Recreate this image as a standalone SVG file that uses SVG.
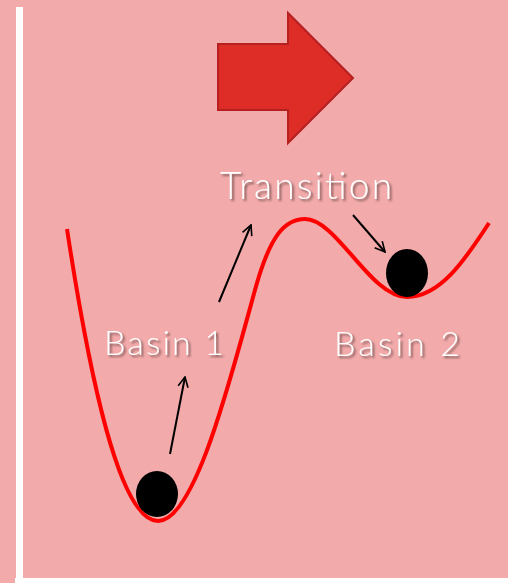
<svg xmlns="http://www.w3.org/2000/svg" width="508" height="583" viewBox="0 0 508 583">
<defs>
<style>
.lbl{font-family:"Lato","Open Sans","DejaVu Sans",sans-serif;font-weight:300;font-size:34px;fill:#ffffff;filter:url(#sh)}
.con{stroke:#000;stroke-width:2;fill:none;marker-end:url(#ah)}
</style>
<filter id="sh" x="-10%" y="-20%" width="130%" height="160%">
<feDropShadow dx="2" dy="2" stdDeviation="1.2" flood-color="#5a3a3a" flood-opacity="0.75"/>
</filter>
<marker id="ah" viewBox="0 0 12 12" refX="11" refY="6" markerWidth="12" markerHeight="12" markerUnits="userSpaceOnUse" orient="auto">
<path d="M1,1 L11,6 L1,11" fill="none" stroke="#000" stroke-width="1.6"/>
</marker>
</defs>
<rect width="508" height="583" fill="#f2aaaa"/>
<rect x="16" y="7" width="7" height="572" fill="#ffffff"/>
<rect x="15" y="578" width="493" height="5" fill="#ffffff"/>
<g id="big-arrow">
<polygon points="218,44 288,44 288,13 353,78 288,143 288,110 218,110" fill="#de2c27" stroke="#b52020" stroke-width="2"/>
</g>
<g id="curve">
<path d="M67,229 C90,380 120,521 158,521 C195,521 230,380 255,290 C270,235 285,219 305,219 C337,219 370,297 407,297 C440,297 465,260 489,223" fill="none" stroke="#ff0000" stroke-width="4"/>
</g>
<g id="ball1"><ellipse cx="157" cy="494" rx="21" ry="23" fill="#000"/></g>
<g id="ball2"><ellipse cx="407" cy="273" rx="21" ry="24" fill="#000"/></g>
<g id="labels">
<text class="lbl" x="220" y="199" style="font-size:37px" textLength="172" lengthAdjust="spacing">Transition</text>
<text class="lbl" x="104" y="355" textLength="120" lengthAdjust="spacing">Basin 1</text>
<text class="lbl" x="334" y="356" textLength="126" lengthAdjust="spacing">Basin 2</text>
</g>
<g id="connectors">
<line class="con" x1="170" y1="454" x2="185" y2="377"/>
<line class="con" x1="219" y1="302" x2="251" y2="225"/>
<line class="con" x1="353" y1="215" x2="385" y2="252"/>
</g>
</svg>
